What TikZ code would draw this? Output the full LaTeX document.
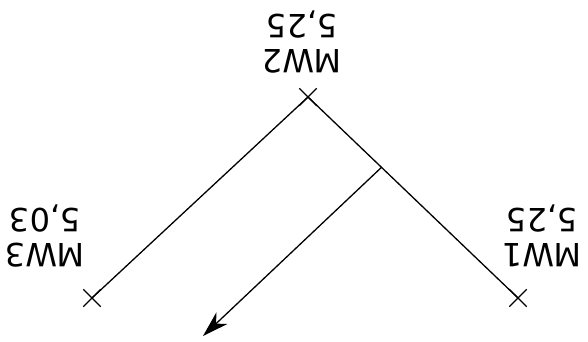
\documentclass[tikz,border=0pt]{standalone}
\usepackage{fontspec}
\setmainfont{DejaVu Sans}
\usepackage{tikz}
\usetikzlibrary{arrows.meta,positioning,shapes.misc,calc}

\begin{document}
\begin{tikzpicture}[
    x=1pt, y=-1pt,
    wellpt/.style={draw, cross out, line width=1.3pt, minimum size=16pt, inner sep=0pt},
    lbl/.style={rotate=180, align=center, inner sep=0pt,
                font=\fontsize{32}{35}\selectfont},
    arrow/.style={-{Stealth[length=26pt, width=16pt, inset=8pt]}, line width=1.3pt},
  ]
  \useasboundingbox (0,0) rectangle (588,342);
  \node[wellpt] (mw2) at (308,97) {};
  \node[wellpt] (mw3) at (92,298) {};
  \node[wellpt] (mw1) at (518,298) {};

  \node[lbl] (l2) at (302,42) {MW2\\5,25};
  \node[lbl] (l3) at (45,236) {MW3\\5,03};
  \node[lbl] (l1) at (542,236) {MW1\\5,25};

  \draw[line width=1.3pt] (mw2.center) -- (mw3.center);
  \draw[line width=1.3pt] (mw2.center) -- (mw1.center);

  \coordinate (jn) at ($(mw2.center)!0.35!(mw1.center)$);
  \coordinate (tip) at (203,336);
  \draw[arrow] (jn) -- (tip);
\end{tikzpicture}
\end{document}
